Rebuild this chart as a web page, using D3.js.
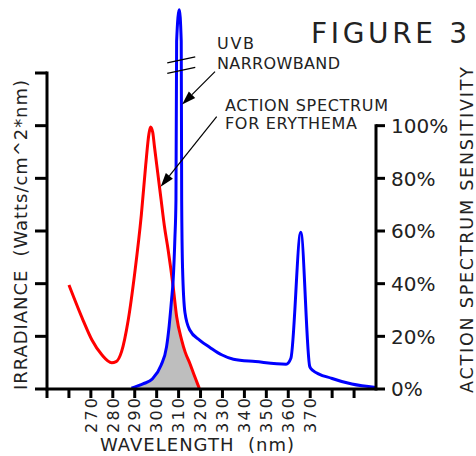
<!DOCTYPE html>
<html>
<head>
<meta charset="utf-8">
<script src="https://cdn.jsdelivr.net/npm/d3@7"></script>
<style>
  body { margin: 0; background: #fff; }
  text { font-family: "DejaVu Sans", sans-serif; fill: #222; }
</style>
</head>
<body>
<div id="chart"></div>
<script>
// erythema action spectrum (% of max)
const redWavelength = [260, 266.5, 270.5, 275, 279.5, 281.5, 284, 287, 290, 293, 295, 296.5, 297.2, 298.2, 299, 300.5, 302, 303.5, 305.2, 307.5, 309.1, 311.4, 313, 315.1, 317, 319.4];
const redValue      = [39.5, 26, 18.6, 13, 10, 10.4, 14.2, 26, 44, 66, 85, 97, 99.5, 97.5, 92, 82, 72, 62, 53, 39, 27.5, 18.6, 14, 9.8, 5.5, 0.3];

// UVB narrowband lamp irradiance (relative units, same scale as left ticks)
const blueWavelength = [288.5, 294, 298, 302, 304.5, 305.7, 306.8, 307.5, 308.3, 308.8, 309.1, 310.3, 311.2, 311.4, 311.8, 312.9, 315.1, 319.7, 324.3, 329.6, 335, 345, 359, 361.2, 365.7, 369.8, 371, 380, 389, 400];
const blueValue      = [0.3, 2, 3.8, 9, 16, 24, 34, 41, 57, 72, 132, 144, 132, 72, 46, 29, 22.4, 18.5, 15.8, 13, 11.3, 10.4, 9.4, 11.7, 59.5, 8.5, 7.2, 4, 1.9, 0.6];

const xTicks = [250, 260, 270, 280, 290, 300, 310, 320, 330, 340, 350, 360, 370, 380, 390];
const xTickLabels = ["", "", "270", "280", "290", "300", "310", "320", "330", "340", "350", "360", "370", "", ""];
const leftTicks = [0, 20, 40, 60, 80, 100, 120];
const rightTicks = [0, 20, 40, 60, 80, 100];
const rightTickLabels = ["0%", "20%", "40%", "60%", "80%", "100%"];

const width = 476, height = 456;
const margin = { top: 73, right: 100, bottom: 67, left: 47 };

const svg = d3.select("#chart").append("svg")
    .attr("width", width)
    .attr("height", height);

const x = d3.scaleLinear()
    .domain([250, 400])
    .range([margin.left, width - margin.right]);

const y = d3.scaleLinear()
    .domain([0, 120])
    .range([height - margin.bottom, margin.top]);

const red = redWavelength.map((w, i) => ({ w, v: redValue[i] }));
const blue = blueWavelength.map((w, i) => ({ w, v: blueValue[i] }));

const line = d3.line().curve(d3.curveMonotoneX).x(d => x(d.w)).y(d => y(d.v));
const area = d3.area().curve(d3.curveMonotoneX).x(d => x(d.w)).y0(y(0)).y1(d => y(d.v));

// overlap: area under red, clipped to area under blue
svg.append("clipPath").attr("id", "underBlue")
    .append("path").attr("d", area(blue));

svg.append("path")
    .attr("d", area(red))
    .attr("fill", "#bebebe")
    .attr("clip-path", "url(#underBlue)");

svg.append("path")
    .attr("d", line(red))
    .attr("fill", "none")
    .attr("stroke", "#ff0000")
    .attr("stroke-width", 3)
    .attr("stroke-linejoin", "round");

svg.append("path")
    .attr("d", line(blue))
    .attr("fill", "none")
    .attr("stroke", "#0000ff")
    .attr("stroke-width", 3)
    .attr("stroke-linejoin", "round");

// axes
const ax = svg.append("g").attr("stroke", "#000").attr("stroke-width", 3);
ax.append("line")
    .attr("x1", x(250)).attr("x2", x(400))
    .attr("y1", y(0)).attr("y2", y(0));
ax.append("line")
    .attr("x1", x(250)).attr("x2", x(250))
    .attr("y1", y(0) + 1.5).attr("y2", y(120) - 1.5);
ax.append("line")
    .attr("x1", x(400)).attr("x2", x(400))
    .attr("y1", y(0) + 1.5).attr("y2", y(100) - 1.5);

ax.selectAll(".xt").data(xTicks).enter().append("line")
    .attr("x1", d => x(d)).attr("x2", d => x(d))
    .attr("y1", y(0)).attr("y2", y(0) + 9);
ax.selectAll(".lt").data(leftTicks).enter().append("line")
    .attr("x1", x(250) - 12).attr("x2", x(250))
    .attr("y1", d => y(d)).attr("y2", d => y(d));
ax.selectAll(".rt").data(rightTicks).enter().append("line")
    .attr("x1", x(400)).attr("x2", x(400) + 9)
    .attr("y1", d => y(d)).attr("y2", d => y(d));

// tick labels
svg.selectAll(".xl").data(xTicks.filter((d, i) => xTickLabels[i])).enter().append("text")
    .attr("transform", d => `translate(${x(d)},${y(0) + 9}) rotate(-90)`)
    .attr("text-anchor", "end")
    .attr("dy", "0.36em")
    .attr("font-size", 16)
    .attr("textLength", 35)
    .attr("lengthAdjust", "spacing")
    .text(d => xTickLabels[xTicks.indexOf(d)]);

svg.selectAll(".rl").data(rightTicks).enter().append("text")
    .attr("x", x(400) + 15)
    .attr("y", d => y(d))
    .attr("dy", "0.36em")
    .attr("font-size", 20)
    .text((d, i) => rightTickLabels[i]);

// break marks on the clipped peak
const bx = x(310.3);
[125, 121].forEach(v => {
    svg.append("line")
        .attr("x1", bx - 12).attr("y1", y(v) + 3)
        .attr("x2", bx + 16).attr("y2", y(v) - 3)
        .attr("stroke", "#000").attr("stroke-width", 1.3);
});

// annotation arrows
const arrows = [
    { from: [215, 71.7], to: [x(311.6), y(108)] },
    { from: [216.7, 116.7], to: [x(301.8), y(76.8)] }
];
arrows.forEach(a => {
    const [x0, y0] = a.from, [x1, y1] = a.to;
    const ang = Math.atan2(y1 - y0, x1 - x0);
    const len = 14, half = 4.5;
    const bxh = x1 - len * Math.cos(ang), byh = y1 - len * Math.sin(ang);
    svg.append("line")
        .attr("x1", x0).attr("y1", y0).attr("x2", bxh).attr("y2", byh)
        .attr("stroke", "#000").attr("stroke-width", 1.2);
    svg.append("path")
        .attr("d", `M${x1},${y1}L${bxh - half * Math.sin(ang)},${byh + half * Math.cos(ang)}L${bxh + half * Math.sin(ang)},${byh - half * Math.cos(ang)}Z`)
        .attr("fill", "#000");
});

// texts
function label(str, px, py, size, len, transform) {
    const t = svg.append("text")
        .attr("font-size", size)
        .attr("textLength", len)
        .attr("lengthAdjust", "spacing")
        .style("white-space", "pre")
        .text(str);
    if (transform) t.attr("transform", transform).attr("text-anchor", "middle");
    else t.attr("x", px).attr("y", py);
    return t;
}

label("FIGURE 3", 311, 43, 28, 156);
label("UVB", 217, 49, 16, 37);
label("NARROWBAND", 217, 69, 16, 123);
label("ACTION SPECTRUM", 225, 110.5, 16, 163);
label("FOR ERYTHEMA", 225, 129, 16, 132);
label("WAVELENGTH  (nm)", 100, 451, 18, 194);
label("IRRADIANCE  (Watts/cm^2*nm)", 0, 0, 18, 310, "translate(27,235) rotate(-90)");
label("ACTION SPECTRUM SENSITIVITY", 0, 0, 17.5, 326, "translate(473,230) rotate(-90)");
</script>
</body>
</html>
